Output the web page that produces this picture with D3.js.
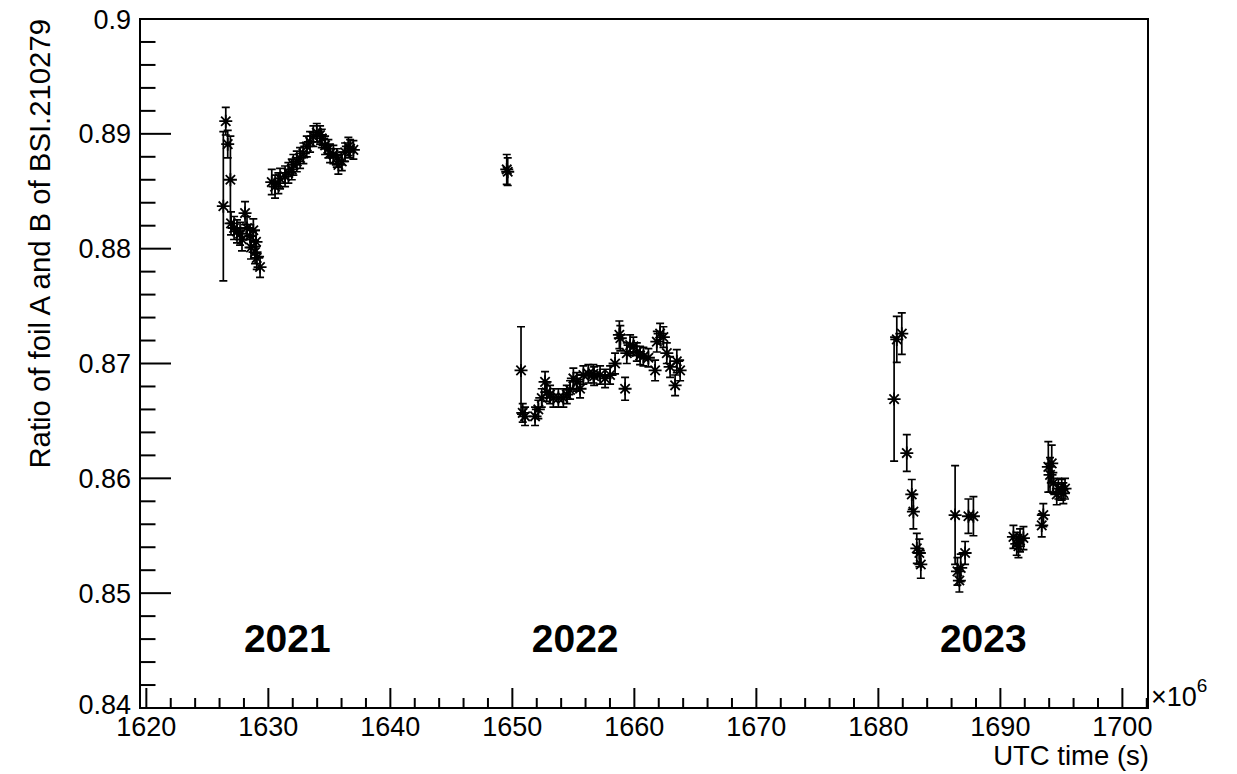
<!DOCTYPE html>
<html>
<head>
<meta charset="utf-8">
<script src="https://cdn.jsdelivr.net/npm/d3@7"></script>
<style>
  html, body { margin: 0; padding: 0; background: #fff; }
  svg { display: block; font-family: "Liberation Sans", Arial, Helvetica, sans-serif; }
</style>
</head>
<body>
<svg id="chart" width="1237" height="774"></svg>
<script>
// ---- Data (UTC time in 1e6 s, ratio, error) ----
const time2021 = [1626.31, 1626.51, 1626.67, 1626.89, 1626.94, 1627.19, 1627.43, 1627.68, 1627.84, 1628.09,
  1628.25, 1628.50, 1628.77, 1628.58, 1628.99, 1628.91, 1629.05, 1629.32,
  1630.28, 1630.55, 1630.82, 1630.96, 1631.37, 1631.64, 1631.92, 1632.05, 1632.33, 1632.60,
  1632.87, 1633.15, 1633.42, 1633.69, 1633.97, 1634.24, 1634.38, 1634.65, 1634.92, 1635.06,
  1635.33, 1635.61, 1635.74, 1636.02, 1636.29, 1636.56, 1636.70, 1636.97];
const ratio2021 = [0.8837, 0.8911, 0.8891, 0.8860, 0.8822, 0.8818, 0.8815, 0.8813, 0.8808, 0.8831,
  0.8818, 0.8811, 0.8816, 0.8801, 0.8806, 0.8797, 0.8792, 0.8784,
  0.8858, 0.8854, 0.8857, 0.8861, 0.8863, 0.8866, 0.8869, 0.8873, 0.8876, 0.8879,
  0.8883, 0.8889, 0.8893, 0.8898, 0.8901, 0.8899, 0.8896, 0.8890, 0.8887, 0.8883,
  0.8882, 0.8879, 0.8873, 0.8876, 0.8884, 0.8889, 0.8887, 0.8886];
const err2021 = [0.0065, 0.0012, 0.0012, 0.0038, 0.0010, 0.0010, 0.0010, 0.0010, 0.0010, 0.0010,
  0.0010, 0.0010, 0.0010, 0.0010, 0.0010, 0.0010, 0.0010, 0.0009,
  0.0011, 0.0010, 0.0009, 0.0009, 0.0009, 0.0009, 0.0009, 0.0009, 0.0009, 0.0009,
  0.0009, 0.0009, 0.0009, 0.0009, 0.0008, 0.0008, 0.0008, 0.0008, 0.0008, 0.0008,
  0.0008, 0.0008, 0.0008, 0.0008, 0.0008, 0.0008, 0.0008, 0.0008];

const time2022 = [1649.54, 1649.62,
  1650.71, 1650.85, 1651.04, 1651.86, 1652.13, 1652.41, 1652.68, 1652.82, 1653.09, 1653.36,
  1653.77, 1654.18, 1654.46, 1654.73, 1655.00, 1655.28, 1655.55, 1655.82, 1656.23, 1656.64,
  1656.70, 1657.19, 1657.60, 1658.01, 1658.42, 1658.77, 1658.85, 1659.24, 1659.38, 1659.65,
  1659.92, 1660.20, 1660.47, 1660.74, 1661.15, 1661.70, 1661.84, 1662.11, 1662.38, 1662.66,
  1662.93, 1663.34, 1663.48, 1663.75];
const ratio2022 = [0.8869, 0.8867,
  0.8694, 0.8657, 0.8654, 0.8654, 0.8660, 0.8670, 0.8684, 0.8675, 0.8673, 0.8670,
  0.8670, 0.8670, 0.8673, 0.8677, 0.8687, 0.8684, 0.8678, 0.8690, 0.8691, 0.8691,
  0.8689, 0.8690, 0.8687, 0.8690, 0.8700, 0.8725, 0.8722, 0.8678, 0.8709, 0.8716,
  0.8715, 0.8710, 0.8707, 0.8706, 0.8705, 0.8694, 0.8719, 0.8726, 0.8723, 0.8709,
  0.8697, 0.8681, 0.8702, 0.8694];
const err2022 = [0.0013, 0.0012,
  0.0038, 0.0008, 0.0008, 0.0008, 0.0008, 0.0008, 0.0009, 0.0008, 0.0008, 0.0008,
  0.0008, 0.0008, 0.0008, 0.0008, 0.0009, 0.0008, 0.0008, 0.0008, 0.0008, 0.0008,
  0.0008, 0.0008, 0.0008, 0.0008, 0.0009, 0.0012, 0.0011, 0.0010, 0.0009, 0.0009,
  0.0008, 0.0008, 0.0008, 0.0008, 0.0008, 0.0009, 0.0009, 0.0009, 0.0009, 0.0009,
  0.0009, 0.0009, 0.0010, 0.0009];

const time2023 = [1681.29, 1681.51, 1681.92, 1682.33, 1682.74, 1682.87, 1683.15, 1683.36, 1683.48,
  1686.29, 1686.48, 1686.64, 1686.75, 1687.11, 1687.38, 1687.79,
  1691.07, 1691.34, 1691.48, 1691.61, 1691.89,
  1693.39, 1693.52, 1693.93, 1694.07, 1694.21, 1694.34, 1694.62, 1694.75, 1695.03, 1695.16, 1695.30];
const ratio2023 = [0.8669, 0.8721, 0.8726, 0.8622, 0.8586, 0.8571, 0.8539, 0.8535, 0.8525,
  0.8568, 0.8519, 0.8511, 0.8522, 0.8535, 0.8567, 0.8567,
  0.8549, 0.8543, 0.8541, 0.8546, 0.8548,
  0.8559, 0.8568, 0.8610, 0.8603, 0.8613, 0.8596, 0.8586, 0.8591, 0.8590, 0.8587, 0.8591];
const err2023 = [0.0054, 0.0020, 0.0018, 0.0016, 0.0013, 0.0015, 0.0013, 0.0012, 0.0012,
  0.0043, 0.0012, 0.0010, 0.0012, 0.0010, 0.0015, 0.0017,
  0.0010, 0.0010, 0.0010, 0.0010, 0.0010,
  0.0010, 0.0010, 0.0022, 0.0015, 0.0016, 0.0009, 0.0009, 0.0009, 0.0009, 0.0009, 0.0009];

const yearLabels = ["2021", "2022", "2023"];
const yearLabelPos = [1631.55, 1655.15, 1688.6];  // x centre in data units
const yearLabelY = 0.84488;                       // baseline in data units

const xMajorTicks = [1620, 1630, 1640, 1650, 1660, 1670, 1680, 1690, 1700];
const yMajorTicks = [0.84, 0.85, 0.86, 0.87, 0.88, 0.89, 0.9];
const yTickLabels = ["0.84", "0.85", "0.86", "0.87", "0.88", "0.89", "0.9"];

// ---- Build points ----
function build(ts, rs, es) { return ts.map((t, i) => ({ t, r: rs[i], e: es[i] })); }
const points = [].concat(build(time2021, ratio2021, err2021),
                         build(time2022, ratio2022, err2022),
                         build(time2023, ratio2023, err2023));

// ---- Layout ----
const L = 140, R = 1148, T = 19, B = 708;
const svg = d3.select("#chart");
const x = d3.scaleLinear().domain([1619.48, 1702.1]).range([L, R]);
const y = d3.scaleLinear().domain([0.84, 0.9]).range([B, T]);

// Frame
svg.append("rect").attr("x", L).attr("y", T).attr("width", R - L).attr("height", B - T)
  .attr("fill", "none").attr("stroke", "#000").attr("stroke-width", 2);

// X axis ticks
const xMinor = d3.range(1620, 1703, 2).filter(v => x(v) <= R + 0.5);
svg.append("g").selectAll("line").data(xMinor).join("line")
  .attr("x1", d => x(d)).attr("x2", d => x(d))
  .attr("y1", B).attr("y2", d => B - (d % 10 === 0 ? 20 : 10))
  .attr("stroke", "#000").attr("stroke-width", 2);
svg.append("g").selectAll("text").data(xMajorTicks).join("text")
  .attr("x", d => x(d)).attr("y", 736)
  .attr("text-anchor", "middle").attr("font-size", 27).text(d => d);

// Y axis ticks
const yMinor = d3.range(0, 31).map(i => 0.84 + i * 0.002);
svg.append("g").selectAll("line").data(yMinor).join("line")
  .attr("x1", L).attr("x2", (d, i) => L + (i % 5 === 0 ? 31 : 15.5))
  .attr("y1", d => y(d)).attr("y2", d => y(d))
  .attr("stroke", "#000").attr("stroke-width", 2);
svg.append("g").selectAll("text").data(yMajorTicks).join("text")
  .attr("x", 131).attr("y", (d, i) => y(d) + (i === 0 ? 6 : 9.5))
  .attr("text-anchor", "end").attr("font-size", 27).text((d, i) => yTickLabels[i]);

// Axis titles
svg.append("text").attr("x", 1149).attr("y", 765).attr("text-anchor", "end")
  .attr("font-size", 27.5).text("UTC time (s)");
svg.append("text").attr("transform", "translate(50,19) rotate(-90)")
  .attr("text-anchor", "end").attr("font-size", 29.3).text("Ratio of foil A and B of BSI.210279");

// ×10^6
const mult = svg.append("text").attr("x", 1151).attr("y", 706).attr("font-size", 27);
mult.append("tspan").text("×10");
mult.append("tspan").attr("dy", -14).attr("font-size", 19).text("6");

// Year labels
svg.append("g").selectAll("text").data(yearLabels).join("text")
  .attr("x", (d, i) => x(yearLabelPos[i])).attr("y", y(yearLabelY))
  .attr("text-anchor", "middle").attr("font-size", 39).attr("font-weight", "bold").text(d => d);

// Error bars
const cap = 4;
const eb = svg.append("g").attr("stroke", "#000").attr("stroke-width", 1.7).attr("fill", "none");
eb.selectAll("path").data(points).join("path")
  .attr("d", d => {
    const cx = x(d.t), y1 = y(d.r + d.e), y2 = y(d.r - d.e);
    return `M${cx},${y1}V${y2}M${cx - cap},${y1}H${cx + cap}M${cx - cap},${y2}H${cx + cap}`;
  });

// Asterisk markers
const s = 6.5, dg = s * 0.72;
svg.append("g").attr("stroke", "#000").attr("stroke-width", 1.8).attr("fill", "none")
  .selectAll("path").data(points).join("path")
  .attr("d", d => {
    const cx = x(d.t), cy = y(d.r);
    return `M${cx - s},${cy}H${cx + s}M${cx},${cy - s}V${cy + s}` +
           `M${cx - dg},${cy - dg}L${cx + dg},${cy + dg}M${cx - dg},${cy + dg}L${cx + dg},${cy - dg}`;
  });
</script>
</body>
</html>
